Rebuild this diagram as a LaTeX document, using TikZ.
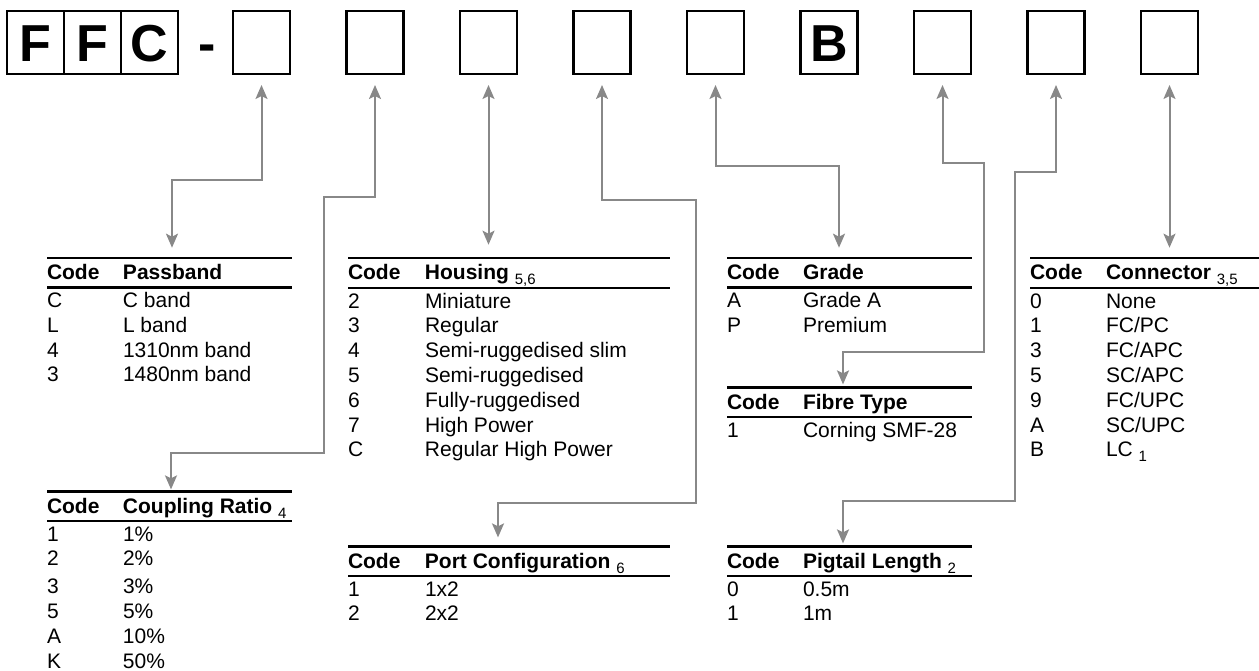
\documentclass[tikz,border=0pt]{standalone}
\usepackage{fontspec}
\setmainfont{Liberation Sans}
\usepackage{array}
\usetikzlibrary{arrows.meta, positioning}
\definecolor{cLink}{HTML}{888888}
\setlength{\tabcolsep}{0pt}
\setlength{\arrayrulewidth}{2.6pt}
\setlength{\extrarowheight}{5pt}
\newcommand{\fnote}[1]{{\mdseries\fontsize{15}{15}\selectfont\raisebox{-5pt}{#1}}}
\newcommand{\hstrut}{\rule[-6.2pt]{0pt}{26.7pt}}

\begin{document}
\begin{tikzpicture}[x=1pt, y=-1pt,
      letter/.style = {draw, line width=2.6pt, minimum width=57pt, minimum height=63pt, inner sep=0pt, outer sep=0pt, font=\fontsize{52}{52}\selectfont\bfseries, text height=38pt, text depth=0pt},
      slot/.style   = {letter},
      tbl/.style    = {anchor=north west, inner sep=0pt, outer sep=0pt, font=\fontsize{21}{19.8}\selectfont},
      link/.style   = {{Stealth[length=14pt,width=12pt,inset=3pt]}-{Stealth[length=14pt,width=12pt,inset=3pt]}, draw=cLink, line width=2pt, shorten <=11pt, shorten >=9pt} ]
    \useasboundingbox (0,0) rectangle (1259,671);

    % part number boxes
    \node[letter] (fc1) at (35.5,42.5) {F};
    \node[letter, right=0pt of fc1] (fc2) {F};
    \node[letter, right=0pt of fc2] (fc3) {C};
    \node[right=20pt of fc3, inner sep=0pt, font=\fontsize{52}{52}\selectfont\bfseries, text height=38pt, text depth=0pt] (dash) {-};
    \node[slot, right=55pt of fc3]   (b1) {};
    \node[slot, right=56.5pt of b1]  (b2) {};
    \node[slot, right=56.5pt of b2]  (b3) {};
    \node[slot, right=56.5pt of b3]  (b4) {};
    \node[slot, right=56.5pt of b4]  (b5) {};
    \node[letter, right=56.5pt of b5] (b6) {B};
    \node[slot, right=56.5pt of b6]  (b7) {};
    \node[slot, right=56.5pt of b7]  (b8) {};
    \node[slot, right=56.5pt of b8]  (b9) {};

    % code tables
    \node[tbl] (tPass) at (47,256.7) {\begin{tabular}{@{}p{76pt}p{169pt}@{}}\hline
        \hstrut\textbf{Code} & \textbf{Passband}\\\hline
        C & C band\\
        L & L band\\
        4 & 1310nm band\\
        3 & 1480nm band
      \end{tabular}};
    \node[tbl] (tCoup) at (47,490.4) {\begin{tabular}{@{}p{76pt}p{169pt}@{}}\hline
        \hstrut\textbf{Code} & \textbf{Coupling Ratio} \fnote{4}\\\hline
        1 & 1\%\\
        2 & 2\%\\[3pt]
        3 & 3\%\\
        5 & 5\%\\
        A & 10\%\\
        K & 50\%
      \end{tabular}};
    \node[tbl] (tHous) at (348,256.7) {\begin{tabular}{@{}p{77pt}p{245pt}@{}}\hline
        \hstrut\textbf{Code} & \textbf{Housing} \fnote{5,6}\\\hline
        2 & Miniature\\
        3 & Regular\\
        4 & Semi-ruggedised slim\\
        5 & Semi-ruggedised\\
        6 & Fully-ruggedised\\
        7 & High Power\\
        C & Regular High Power
      \end{tabular}};
    \node[tbl] (tPort) at (348,545.4) {\begin{tabular}{@{}p{77pt}p{245pt}@{}}\hline
        \hstrut\textbf{Code} & \textbf{Port Configuration} \fnote{6}\\\hline
        1 & 1x2\\
        2 & 2x2
      \end{tabular}};
    \node[tbl] (tGrade) at (727,256.7) {\begin{tabular}{@{}p{76pt}p{169pt}@{}}\hline
        \hstrut\textbf{Code} & \textbf{Grade}\\\hline
        A & Grade A\\
        P & Premium
      \end{tabular}};
    \node[tbl] (tFibre) at (727,386.4) {\begin{tabular}{@{}p{76pt}p{169pt}@{}}\hline
        \hstrut\textbf{Code} & \textbf{Fibre Type}\\\hline
        1 & Corning SMF-28
      \end{tabular}};
    \node[tbl] (tPig) at (727,545.4) {\begin{tabular}{@{}p{76pt}p{169pt}@{}}\hline
        \hstrut\textbf{Code} & \textbf{Pigtail Length} \fnote{2}\\\hline
        0 & 0.5m\\
        1 & 1m
      \end{tabular}};
    \node[tbl] (tConn) at (1030,256.7) {\begin{tabular}{@{}p{76pt}p{169pt}@{}}\hline
        \hstrut\textbf{Code} & \textbf{Connector} \fnote{3,5}\\\hline
        0 & None\\
        1 & FC/PC\\
        3 & FC/APC\\
        5 & SC/APC\\
        9 & FC/UPC\\
        A & SC/UPC\\
        B & LC \fnote{1}
      \end{tabular}};

    % links from the boxes to their tables
    \draw[link] (b1.south) -- ++(0,106) -| ([xshift=125pt]tPass.north west);
    \draw[link, shorten >=1pt] (b2.south) -- ++(0,123) -- ++(-51,0) -- ++(0,256) -| ([xshift=124pt]tCoup.north west);
    \draw[link, shorten >=12pt] (b3.south) -- (b3.south |- tHous.north);
    \draw[link, shorten >=8pt] (b4.south) -- ++(0,126) -- ++(94,0) -- ++(0,303) -| ([xshift=150pt]tPort.north west);
    \draw[link] (b5.south) -- ++(0,92) -| ([xshift=112pt]tGrade.north west);
    \draw[link, shorten >=2pt] (b7.south) -- ++(0,89) -- ++(41,0) -- ++(0,189) -| ([xshift=116pt]tFibre.north west);
    \draw[link, shorten >=2pt] (b8.south) -- ++(0,98) -- ++(-41,0) -- ++(0,329) -| ([xshift=116pt]tPig.north west);
    \draw[link] (b9.south) -- (b9.south |- tConn.north);
  \end{tikzpicture}
\end{document}
